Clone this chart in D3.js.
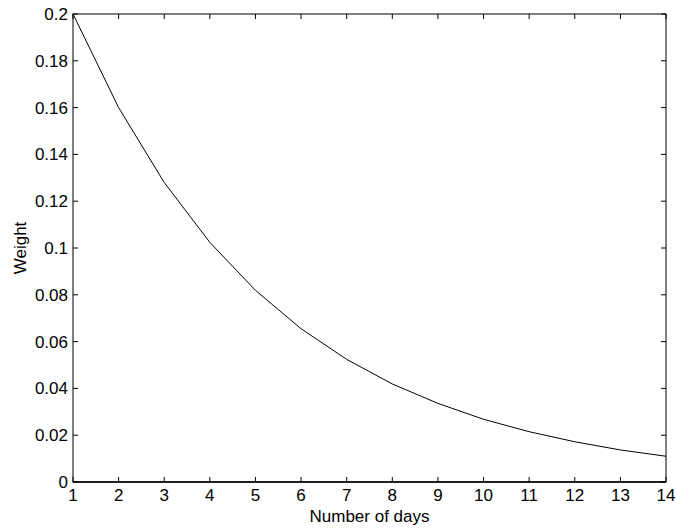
<!DOCTYPE html>
<html><head><meta charset="utf-8">
<script src="https://cdn.jsdelivr.net/npm/d3@7"></script>
<style>body{margin:0;background:#fff}svg{display:block}</style>
</head><body><svg id="c" width="676" height="530"></svg>
<script>
const days = [1,2,3,4,5,6,7,8,9,10,11,12,13,14];
const weights = [0.2,0.16,0.128,0.1024,0.0819,0.0655,0.0524,0.0419,0.0336,0.0268,0.0215,0.0172,0.0137,0.011];
const xTicks = [1,2,3,4,5,6,7,8,9,10,11,12,13,14];
const yTicks = [0,0.02,0.04,0.06,0.08,0.1,0.12,0.14,0.16,0.18,0.2];
const xLabel = "Number of days";
const yLabel = "Weight";

const L=73, R=666, T=14, B=482;
const svg = d3.select("#c");
const x = d3.scaleLinear().domain([1,14]).range([L,R]);
const y = d3.scaleLinear().domain([0,0.2]).range([B,T]);
const font = "'Liberation Sans', Arial, Helvetica, sans-serif";
const fs = 17;

const g = svg.append("g").attr("font-family",font).attr("font-size",fs);
g.append("rect").attr("x",L).attr("y",T).attr("width",R-L).attr("height",B-T)
 .attr("fill","none").attr("stroke","#000").attr("stroke-width",1);
g.append("line").attr("x1",L).attr("x2",R).attr("y1",B).attr("y2",B).attr("stroke","#000").attr("stroke-width",1.5);
const tl=5;
xTicks.forEach(t=>{
  g.append("line").attr("x1",x(t)).attr("x2",x(t)).attr("y1",B).attr("y2",B-tl).attr("stroke","#000");
  g.append("line").attr("x1",x(t)).attr("x2",x(t)).attr("y1",T).attr("y2",T+tl).attr("stroke","#000");
  g.append("text").attr("x",x(t)).attr("y",B+19).attr("text-anchor","middle").text(t);
});
yTicks.forEach(t=>{
  g.append("line").attr("x1",L).attr("x2",L+tl).attr("y1",y(t)).attr("y2",y(t)).attr("stroke","#000");
  g.append("line").attr("x1",R).attr("x2",R-tl).attr("y1",y(t)).attr("y2",y(t)).attr("stroke","#000");
  g.append("text").attr("x",L-5).attr("y",y(t)).attr("dy","0.35em").attr("text-anchor","end").text(d3.format("~g")(t));
});
g.append("path").datum(days.map((d,i)=>[d,weights[i]]))
 .attr("d",d3.line().x(d=>x(d[0])).y(d=>y(d[1])))
 .attr("fill","none").attr("stroke","#000").attr("stroke-width",1);
g.append("text").attr("x",(L+R)/2).attr("y",522).attr("text-anchor","middle").text(xLabel);
g.append("text").attr("transform",`translate(26,${(T+B)/2}) rotate(-90)`).attr("text-anchor","middle").text(yLabel);
</script></body></html>
